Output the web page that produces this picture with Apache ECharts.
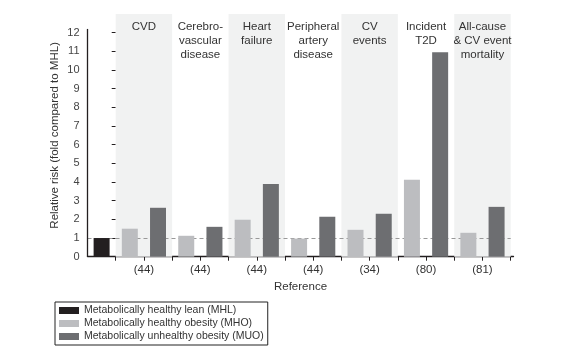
<!DOCTYPE html>
<html>
<head>
<meta charset="utf-8">
<script src="https://cdn.jsdelivr.net/npm/echarts@6/dist/echarts.min.js"></script>
<style>html,body{margin:0;padding:0;background:#fff}#c{width:583px;height:356px}</style>
</head>
<body>
<div id="c"></div>
<script>
const groups = ['CVD', 'Cerebro-\nvascular\ndisease', 'Heart\nfailure', 'Peripheral\nartery\ndisease', 'CV\nevents', 'Incident\nT2D', 'All-cause\n& CV event\nmortality'];
const refs = ['(44)', '(44)', '(44)', '(44)', '(34)', '(80)', '(81)'];
const shaded = [true, false, true, false, true, false, true];
const mhl = [1.0];
const mho = [1.50, 1.12, 1.98, 0.97, 1.44, 4.12, 1.28];
const muo = [2.62, 1.60, 3.90, 2.14, 2.30, 10.95, 2.67];
const yTicks = [0,1,2,3,4,5,6,7,8,9,10,11,12];
const yTop = 13;

const FONT = "'Liberation Sans',Arial,sans-serif";
const TXT = '#333';
const FS = 11.5;
const C_MHL = '#231f20', C_MHO = '#bcbdc0', C_MUO = '#6d6e71';

const areaData = groups.map((g, i) => [
  { name: g, xAxis: 2 * i, yAxis: 0, itemStyle: { color: shaded[i] ? '#f1f2f2' : 'rgba(0,0,0,0)' } },
  { xAxis: 2 * i + 2, yAxis: yTop }
]);

const chart = echarts.init(document.getElementById('c'), null, { renderer: 'canvas' });
chart.setOption({
  animation: false,
  textStyle: { fontFamily: FONT },
  grid: { left: 87.5, right: 69.5, top: 14, bottom: 99.3, containLabel: false },
  legend: {
    orient: 'vertical', left: 55, top: 302,
    borderColor: '#222', borderWidth: 1, padding: [3, 4, 3, 4],
    itemWidth: 20, itemHeight: 7, itemGap: 2, icon: 'rect',
    textStyle: { fontSize: 10.5, color: TXT, fontFamily: FONT },
    data: ['Metabolically healthy lean (MHL)', 'Metabolically healthy obesity (MHO)', 'Metabolically unhealthy obesity (MUO)']
  },
  xAxis: {
    type: 'value', min: -1, max: 14.1, interval: 1,
    splitLine: { show: false },
    axisLine: { show: true, lineStyle: { color: '#231f20', width: 1.3 } },
    axisTick: { show: true, length: 4, lineStyle: { color: '#231f20' }, customValues: [0,1,2,3,4,5,6,7,8,9,10,11,12,13,14] },
    axisLabel: {
      customValues: [1,3,5,7,9,11,13], margin: 7, fontSize: FS, color: TXT, fontFamily: FONT,
      formatter: v => refs[Math.round((v - 1) / 2)] || ''
    },
    name: 'Reference', nameLocation: 'middle', nameGap: 24, nameMoveOverlap: false,
    nameTextStyle: { fontSize: FS, color: TXT, fontFamily: FONT }
  },
  yAxis: {
    type: 'value', min: 0, max: yTop, interval: 1,
    splitLine: { show: false },
    axisLine: { show: false },
    axisTick: { show: true, length: 4, lineStyle: { color: '#231f20' }, customValues: yTicks },
    axisLabel: { customValues: yTicks, margin: 8, fontSize: 11, color: '#444', fontFamily: FONT },
    name: 'Relative risk (fold compared to MHL)', nameLocation: 'middle', nameGap: 27, nameMoveOverlap: false,
    nameTextStyle: { fontSize: FS, color: TXT, fontFamily: FONT }
  },
  series: [
    {
      name: 'Metabolically healthy lean (MHL)', type: 'bar', barWidth: 16, barGap: '-100%',
      itemStyle: { color: C_MHL }, z: 3, clip: false,
      data: mhl.map((v) => [-0.5, v]),
      markArea: {
        silent: true, z: 1,
        label: { show: true, position: 'insideTop', distance: 6, fontSize: FS, lineHeight: 14, color: TXT, fontFamily: FONT },
        data: areaData
      },
      markLine: {
        silent: true, symbol: 'none', z: 6,
        label: { show: false },
        lineStyle: { color: '#231f20', width: 1.3, type: 'solid' },
        data: [[{ coord: [-1, 0] }, { coord: [-1, 12.2] }]]
      }
    },
    {
      name: 'Metabolically healthy obesity (MHO)', type: 'bar', barWidth: 16, barGap: '-100%',
      itemStyle: { color: C_MHO }, z: 3,
      data: mho.map((v, i) => [2 * i + 0.5, v]),
      markLine: {
        silent: true, symbol: 'none', z: 2,
        label: { show: false },
        lineStyle: { color: '#999', width: 1, type: [4, 3] },
        data: [[{ coord: [-1, 1] }, { coord: [14, 1] }]]
      }
    },
    {
      name: 'Metabolically unhealthy obesity (MUO)', type: 'bar', barWidth: 16, barGap: '-100%',
      itemStyle: { color: C_MUO }, z: 3,
      data: muo.map((v, i) => [2 * i + 1.5, v])
    }
  ]
});
</script>
</body>
</html>
